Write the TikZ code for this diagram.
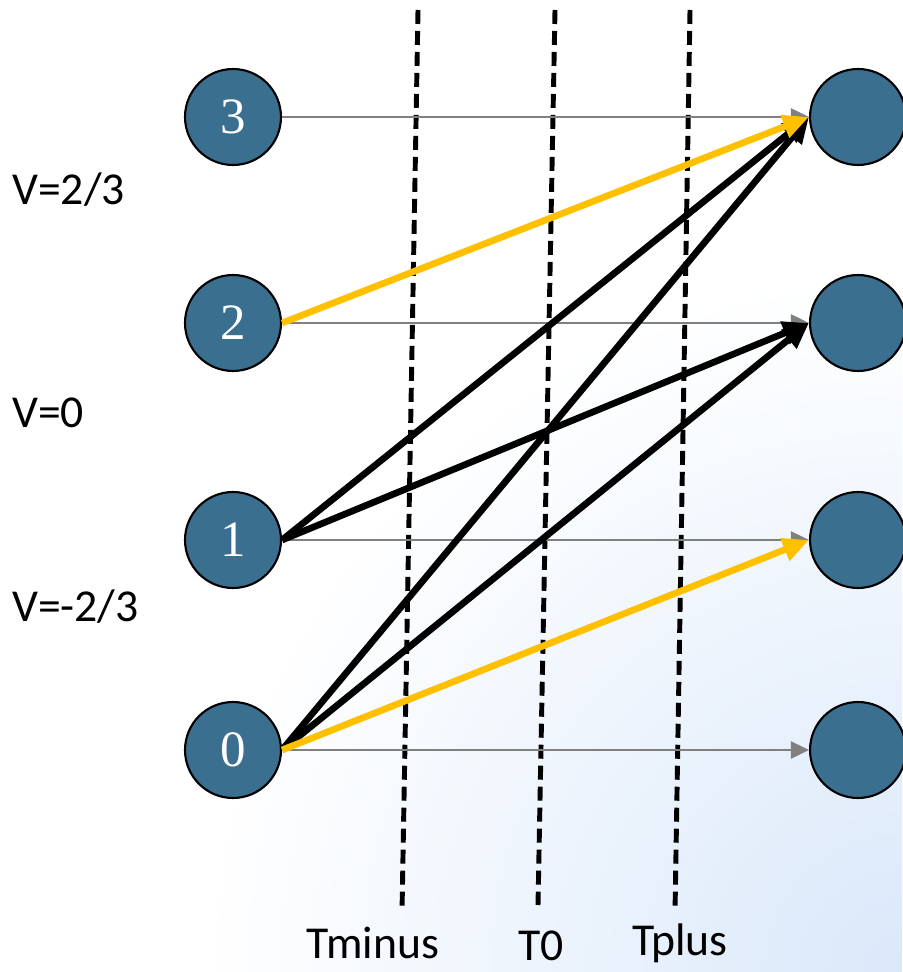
\documentclass[tikz,border=0pt]{standalone}
\usepackage{fontspec}
\setmainfont{Carlito}
\newfontfamily\numfont{Liberation Serif}
\usetikzlibrary{arrows.meta}
\definecolor{statefill}{RGB}{59,111,143}
\definecolor{pathgold}{RGB}{255,192,0}
\definecolor{paleblue}{RGB}{218,232,250}

\begin{document}
\begin{tikzpicture}[x=0.02cm,y=-0.02cm,
  state/.style={circle,draw=black,line width=1.2pt,fill=statefill,minimum size=1.92cm,
    inner sep=0pt,text=white,font=\numfont\fontsize{29}{29}\selectfont},
  cut/.style={line width=2.8pt,dash pattern=on 0.28cm off 0.14cm},
  stay/.style={-{Triangle[length=0.36cm,width=0.34cm]},gray,line width=1.5pt},
  jump/.style={-{Triangle[length=0.52cm,width=0.46cm]},line width=3.8pt},
  lbl/.style={font=\fontsize{26}{26}\selectfont}]
  \useasboundingbox (0,0) rectangle (902,972);
  % faint backdrop
  \begin{scope}
    \clip (0,0) rectangle (902,972);
    \shade[inner color=paleblue,outer color=white] (902,972) circle (700);
  \end{scope}
  % states before and after
  \foreach \k/\y in {3/117,2/323,1/540,0/750} {
    \node[state] (s\k) at (233,\y) {\k};
    \node[state] (r\k) at (858,\y) {};
  }
  % velocity labels
  \node[lbl,anchor=west] (v1) at (6,190) {V=2/3};
  \node[lbl,anchor=west] (v2) at (6,413) {V=0};
  \node[lbl,anchor=west] (v3) at (6,607) {V=-2/3};
  % time cuts
  \node[lbl] (tminus) at (373,943) {Tminus};
  \node[lbl] (tzero) at (541,946) {T0};
  \node[lbl] (tplus) at (680,943) {Tplus};
  \draw[cut] (418,10) -- (402,912);
  \draw[cut] (555,10) -- (538,905);
  \draw[cut] (690,10) -- (675,912);
  % transitions
  \foreach \k in {3,2,1,0}
    \draw[stay] (s\k) -- (r\k);
  \draw[jump] (s1.east) -- (r3.west);
  \draw[jump] (s1.east) -- (r2.west);
  \draw[jump] (s0.east) -- (r3.west);
  \draw[jump] (s0.east) -- (r2.west);
  \draw[jump,pathgold] (s2.east) -- (r3.west);
  \draw[jump,pathgold] (s0.east) -- (r1.west);
\end{tikzpicture}
\end{document}
